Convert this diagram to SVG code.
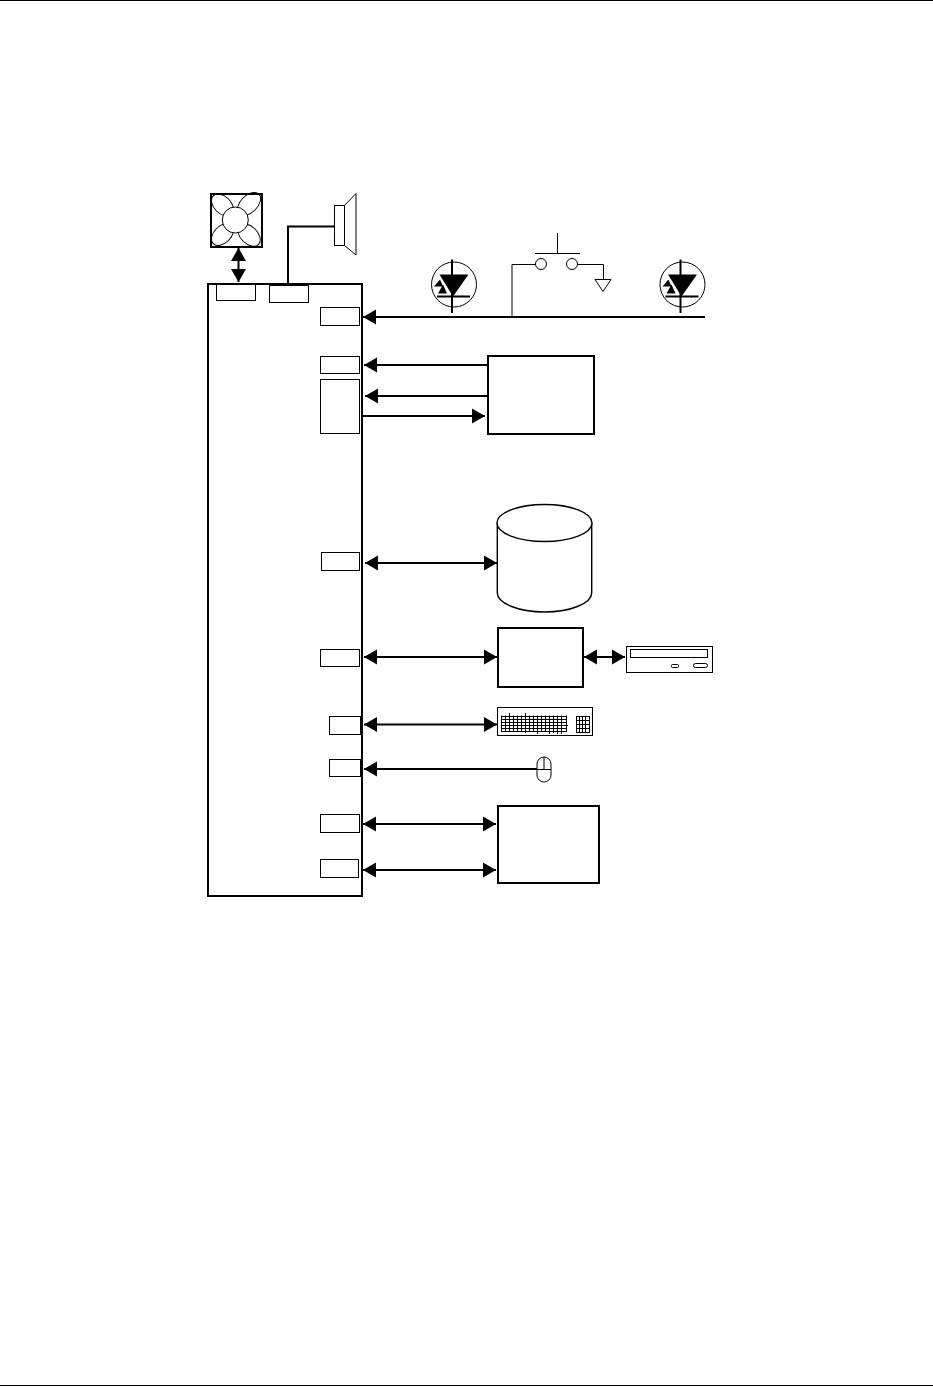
<svg xmlns="http://www.w3.org/2000/svg" width="933" height="1387" viewBox="0 0 933 1387">
<style>
.b{fill:#fff;stroke:#000;stroke-width:2}
.d{fill:#fff;stroke:#000;stroke-width:1.4}
.p{fill:#fff;stroke:#000;stroke-width:1}
.t{fill:none;stroke:#000;stroke-width:1}
.c{fill:none;stroke:#000;stroke-width:2}
.h{fill:#000;stroke:none}
</style>
<defs>
<marker id="a" markerUnits="userSpaceOnUse" markerWidth="14" markerHeight="16" refX="13" refY="8" orient="auto-start-reverse"><path class="h" d="M0 0.500L13 8L0 15.500Z"/></marker>
<g id="led"><circle cx="0" cy="0" r="22.500" fill="#fff" stroke="#000" stroke-width="1"/>
<path d="M-2 -25V28.500" class="c"/><path class="h" d="M-14.500 -10H14.500L-1 12Z"/><path d="M-17 12H16" class="c"/><path class="h" d="M-20 2L-14 -5L-11 2Z M-16 9L-11 0L-7 9Z"/></g>
</defs>
<rect width="933" height="1387" fill="#fff"/>
<path d="M0 0.500H933M0 1385.500H933" stroke="#000" fill="none"/>

<g id="main"><rect class="b" x="208" y="284" width="154" height="612"/></g>
<g id="port-fan"><rect class="p" x="216.500" y="284.500" width="39" height="16"/></g>
<g id="port-spk"><rect class="p" x="269.500" y="285.500" width="39" height="17"/></g>
<g id="port-1"><rect class="p" x="320.500" y="307.500" width="39" height="18"/></g>
<g id="port-2"><rect class="p" x="320.500" y="356.500" width="39" height="17"/></g>
<g id="port-3"><rect class="p" x="320.500" y="379.500" width="39" height="54"/></g>
<g id="port-4"><rect class="p" x="321.500" y="552.500" width="38" height="18"/></g>
<g id="port-5"><rect class="p" x="320.500" y="649.500" width="39" height="17"/></g>
<g id="port-6"><rect class="p" x="329.500" y="716.500" width="31" height="18"/></g>
<g id="port-7"><rect class="p" x="329.500" y="759.500" width="31" height="17"/></g>
<g id="port-8"><rect class="p" x="320.500" y="814.500" width="39" height="18"/></g>
<g id="port-9"><rect class="p" x="320.500" y="859.500" width="38" height="18"/></g>

<g id="fan"><rect class="b" x="211" y="194" width="51" height="53"/>
<ellipse class="t" cx="222.500" cy="205" rx="13" ry="8.500" transform="rotate(45 222.500 205)"/>
<ellipse class="t" cx="249" cy="204" rx="14" ry="8.500" transform="rotate(-45 249 204)"/>
<ellipse class="t" cx="222.500" cy="234.500" rx="13" ry="8.500" transform="rotate(-45 222.500 234.500)"/>
<ellipse class="t" cx="249" cy="235" rx="13.500" ry="8.500" transform="rotate(45 249 235)"/>
<circle cx="235.300" cy="220" r="13" fill="#fff" stroke="#000" stroke-width="1"/></g>

<g id="speaker"><rect class="p" x="334.500" y="205.500" width="10" height="40"/><path class="t" d="M344.500 205.500L356 193.500V255L344.500 245.500"/></g>

<g id="led-1" transform="translate(454,284.500)"><use href="#led"/></g>
<g id="led-2" transform="translate(682.500,284.500)"><use href="#led"/></g>

<g id="switch"><circle cx="541" cy="264" r="5.500" class="t"/><circle cx="572" cy="264" r="5.500" class="t"/>
<path class="t" d="M557.500 233V253.500M535 253.500H580M512 317V264.500H535.500M577.500 264.500H603.500V279"/>
<path class="t" d="M595 279.500H611L603 291.500Z"/></g>

<g id="box-a"><rect class="b" x="488" y="356" width="106" height="78"/></g>
<g id="disk"><path class="d" d="M497.300 523V593C497.300 603 518 612 544.500 612C571 612 591.700 603 591.700 593V523"/><ellipse class="d" cx="544.500" cy="523" rx="47.500" ry="18.500"/></g>
<g id="box-b"><rect class="b" x="498" y="628" width="85" height="59"/></g>
<g id="drive"><rect class="p" x="626.500" y="646.500" width="86" height="26"/><rect class="p" x="630.500" y="649.500" width="77" height="8"/><rect class="p" x="671.500" y="664.500" width="7" height="3" rx="1"/><rect class="p" x="693.500" y="663.500" width="14" height="4" rx="2"/></g>
<g id="keyboard"><rect class="p" x="497.500" y="707.500" width="95" height="28"/>
<path class="t" d="M501.500 715.500V732M505.500 715.500V732M509.500 713V732M513.500 715.500V732M517.500 715.500V732M521.500 715.500V732M525.500 713V733M529.500 715.500V732M533.500 715.500V732M537.500 715.500V734M541.500 715.500V732M545.500 715.500V732M549.500 715.500V734M553.500 715.500V733M557.500 715.500V734M561.500 715.500V734M566.500 715.500V732
M501 716.500H567M501 719.500H567M501 722.500H567M501 725.500H568M501 728.500H567M501 731.500H567"/>
<path class="t" d="M576.500 716.500V732.500M579.500 716.500V732.500M582.500 716.500V732.500M585.500 716.500V732.500M589.500 716.500V732.500M576 716.500H590M576 720.500H590M576 724.500H590M576 728.500H590M576 732.500H590"/></g>
<g id="mouse"><rect class="p" x="537" y="757" width="14" height="25" rx="7"/><path class="t" d="M537 769.500H551M544 757V769.500"/></g>
<g id="box-c"><rect class="b" x="498" y="806" width="101" height="77"/></g>

<g id="connectors">
<path class="c" d="M238.500 248V282" marker-start="url(#a)" marker-end="url(#a)"/>
<path class="c" d="M288 284V226.500H335"/>
<path class="c" d="M705 317H363" marker-end="url(#a)"/>
<path class="c" d="M488 365H364" marker-end="url(#a)"/>
<path class="c" d="M488 396H365" marker-end="url(#a)"/>
<path class="c" d="M362 416H485" marker-end="url(#a)"/>
<path class="c" d="M365 563H497" marker-start="url(#a)" marker-end="url(#a)"/>
<path class="c" d="M364 657H497" marker-start="url(#a)" marker-end="url(#a)"/>
<path class="c" d="M584 657H625" marker-start="url(#a)" marker-end="url(#a)"/>
<path class="c" d="M364 724.500H497" marker-start="url(#a)" marker-end="url(#a)"/>
<path class="c" d="M537 769H364" marker-end="url(#a)"/>
<path class="c" d="M363 824H496" marker-start="url(#a)" marker-end="url(#a)"/>
<path class="c" d="M363 870H496" marker-start="url(#a)" marker-end="url(#a)"/>
</g>
</svg>
